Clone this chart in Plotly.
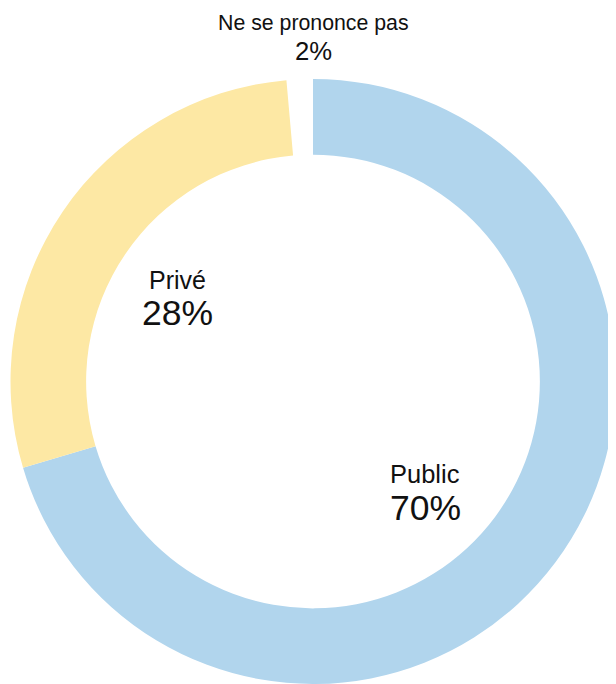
import plotly.graph_objects as go

categories = ["Public", "Privé", "Ne se prononce pas"]
values = [70.4, 28.2, 1.4]
pct_labels = ["70%", "28%", "2%"]
colors = ["#b1d5ed", "#fde8a4", "rgba(255,255,255,0)"]

# page has an 8px body margin; figure sized to fit the 616x684 window
OFF = 8
W, H = 616 - OFF, 684 - OFF

fig = go.Figure(go.Pie(
    labels=categories,
    values=values,
    hole=0.75,
    sort=False,
    direction="clockwise",
    rotation=0,
    marker=dict(colors=colors, line=dict(width=0)),
    textinfo="none",
    hoverinfo="label+percent",
    domain=dict(x=[2 / W, 1], y=[0, 605 / H]),
    showlegend=False,
))

font = "Liberation Sans, Arial, Helvetica, sans-serif"
# label placement in window px: (x, name_y, pct_y, name_size, pct_size)
placements = [
    (425, 474, 508, 25.5, 35.5),
    (177, 280, 313, 25, 35.5),
    (313, 23, 51, 21.3, 25.7),
]
ann = []
for name, pct, (xp, ny, py, ns, ps) in zip(categories, pct_labels, placements):
    ann.append(dict(text=name, x=(xp - OFF) / W, y=1 - (ny - OFF) / H,
                    xref="paper", yref="paper",
                    xanchor="center", yanchor="middle", showarrow=False,
                    font=dict(family=font, size=ns, color="#111111")))
    ann.append(dict(text=pct, x=(xp - OFF) / W, y=1 - (py - OFF) / H,
                    xref="paper", yref="paper",
                    xanchor="center", yanchor="middle", showarrow=False,
                    font=dict(family=font, size=ps, color="#111111")))

fig.update_layout(
    width=W, height=H,
    margin=dict(l=0, r=0, t=0, b=0),
    paper_bgcolor="white",
    plot_bgcolor="white",
    annotations=ann,
)

fig.write_html("out.html")
